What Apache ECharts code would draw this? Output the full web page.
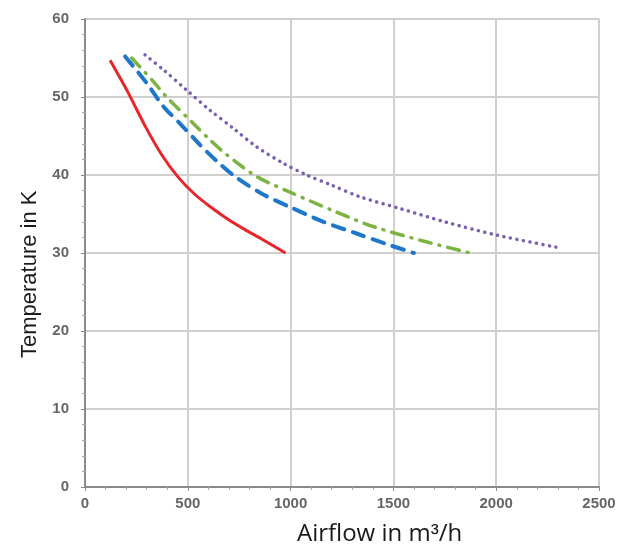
<!DOCTYPE html>
<html><head><meta charset="utf-8">
<script src="https://cdn.jsdelivr.net/npm/echarts@6/dist/echarts.min.js"></script>
<style>html,body{margin:0;padding:0;background:#fff}#c{width:637px;height:554px}</style>
</head><body><div id="c"></div>
<script>
const xTicks = [0, 500, 1000, 1500, 2000, 2500];
const yTicks = [0, 10, 20, 30, 40, 50, 60];
const redSeries = [[122,54.7],[211,50.5],[292,46.3],[373,42.6],[454,39.7],[535,37.5],[616,35.8],[697,34.3],[778,33],[859,31.8],[975,30]];
const blueSeries = [[195,55.2],[300,51.8],[381,48.8],[462,46.6],[551,44.1],[640,41.8],[730,39.8],[860,37.6],[997,35.9],[1160,34],[1321,32.5],[1460,31.2],[1600,30]];
const greenSeries = [[227,55],[332,52],[397,50],[527,46.6],[608,44.5],[689,42.6],[835,39.8],[997,37.8],[1200,35.5],[1401,33.4],[1650,31.5],[1890,29.9]];
const purpleSeries = [[292,55.4],[381,53.5],[494,50.9],[608,48.3],[721,46],[835,43.6],[965,41.5],[1078,40],[1200,38.7],[1338,37.2],[1532,35.7],[1750,34],[2002,32.3],[2320,30.6]];

const chart = echarts.init(document.getElementById('c'));
const gridCol = '#cfcfcf';
const lbl = {color:'#666',fontFamily:'Liberation Sans',fontSize:15,fontWeight:'bold',formatter:v=>String(v)};
const lineBase = {type:'line',smooth:0.3,showSymbol:false};
chart.setOption({
  animation:false,
  grid:{left:85,right:38,top:19,bottom:67},
  xAxis:{type:'value',min:xTicks[0],max:xTicks[xTicks.length-1],interval:xTicks[1]-xTicks[0],
    axisLine:{show:true,lineStyle:{color:'#8a8a8a',width:2}},
    axisTick:{show:true,length:4,lineStyle:{color:'#8a8a8a'}},
    minorTick:{show:true,splitNumber:5,length:3,lineStyle:{color:'#aaa'}},
    splitLine:{show:true,lineStyle:{color:gridCol,width:2}},
    axisLabel:Object.assign({margin:9},lbl)},
  yAxis:{type:'value',min:yTicks[0],max:yTicks[yTicks.length-1],interval:yTicks[1]-yTicks[0],
    axisLine:{show:true,lineStyle:{color:'#8a8a8a',width:2}},
    axisTick:{show:true,length:4,lineStyle:{color:'#8a8a8a'}},
    minorTick:{show:true,splitNumber:5,length:3,lineStyle:{color:'#aaa'}},
    splitLine:{show:true,lineStyle:{color:gridCol,width:2}},
    axisLabel:Object.assign({margin:16},lbl)},
  graphic:[
    {type:'text',left:297,top:522,style:{text:'Airflow in m{s|³}/h',font:'24px "Open Sans", sans-serif',fill:'#1a1a1a',
      rich:{s:{fontSize:24,fontFamily:'Liberation Sans',fill:'#1a1a1a'}}}},
    {type:'text',x:19,y:358,rotation:Math.PI/2,style:{text:'Temperature in K',font:'22px "Liberation Sans", sans-serif',fill:'#1a1a1a'}}
  ],
  series:[
    Object.assign({data:redSeries,lineStyle:{color:'#e8262a',width:3}},lineBase),
    Object.assign({data:blueSeries,lineStyle:{color:'#1f77c9',width:4,type:[12,9],cap:'round'}},lineBase),
    Object.assign({data:greenSeries,lineStyle:{color:'#7cb342',width:3.5,type:[12,8,1,8],cap:'round'}},lineBase),
    Object.assign({data:purpleSeries,lineStyle:{color:'#7b5fb0',width:3.5,type:[0.1,6.5],cap:'round'}},lineBase)
  ]
});
</script></body></html>
